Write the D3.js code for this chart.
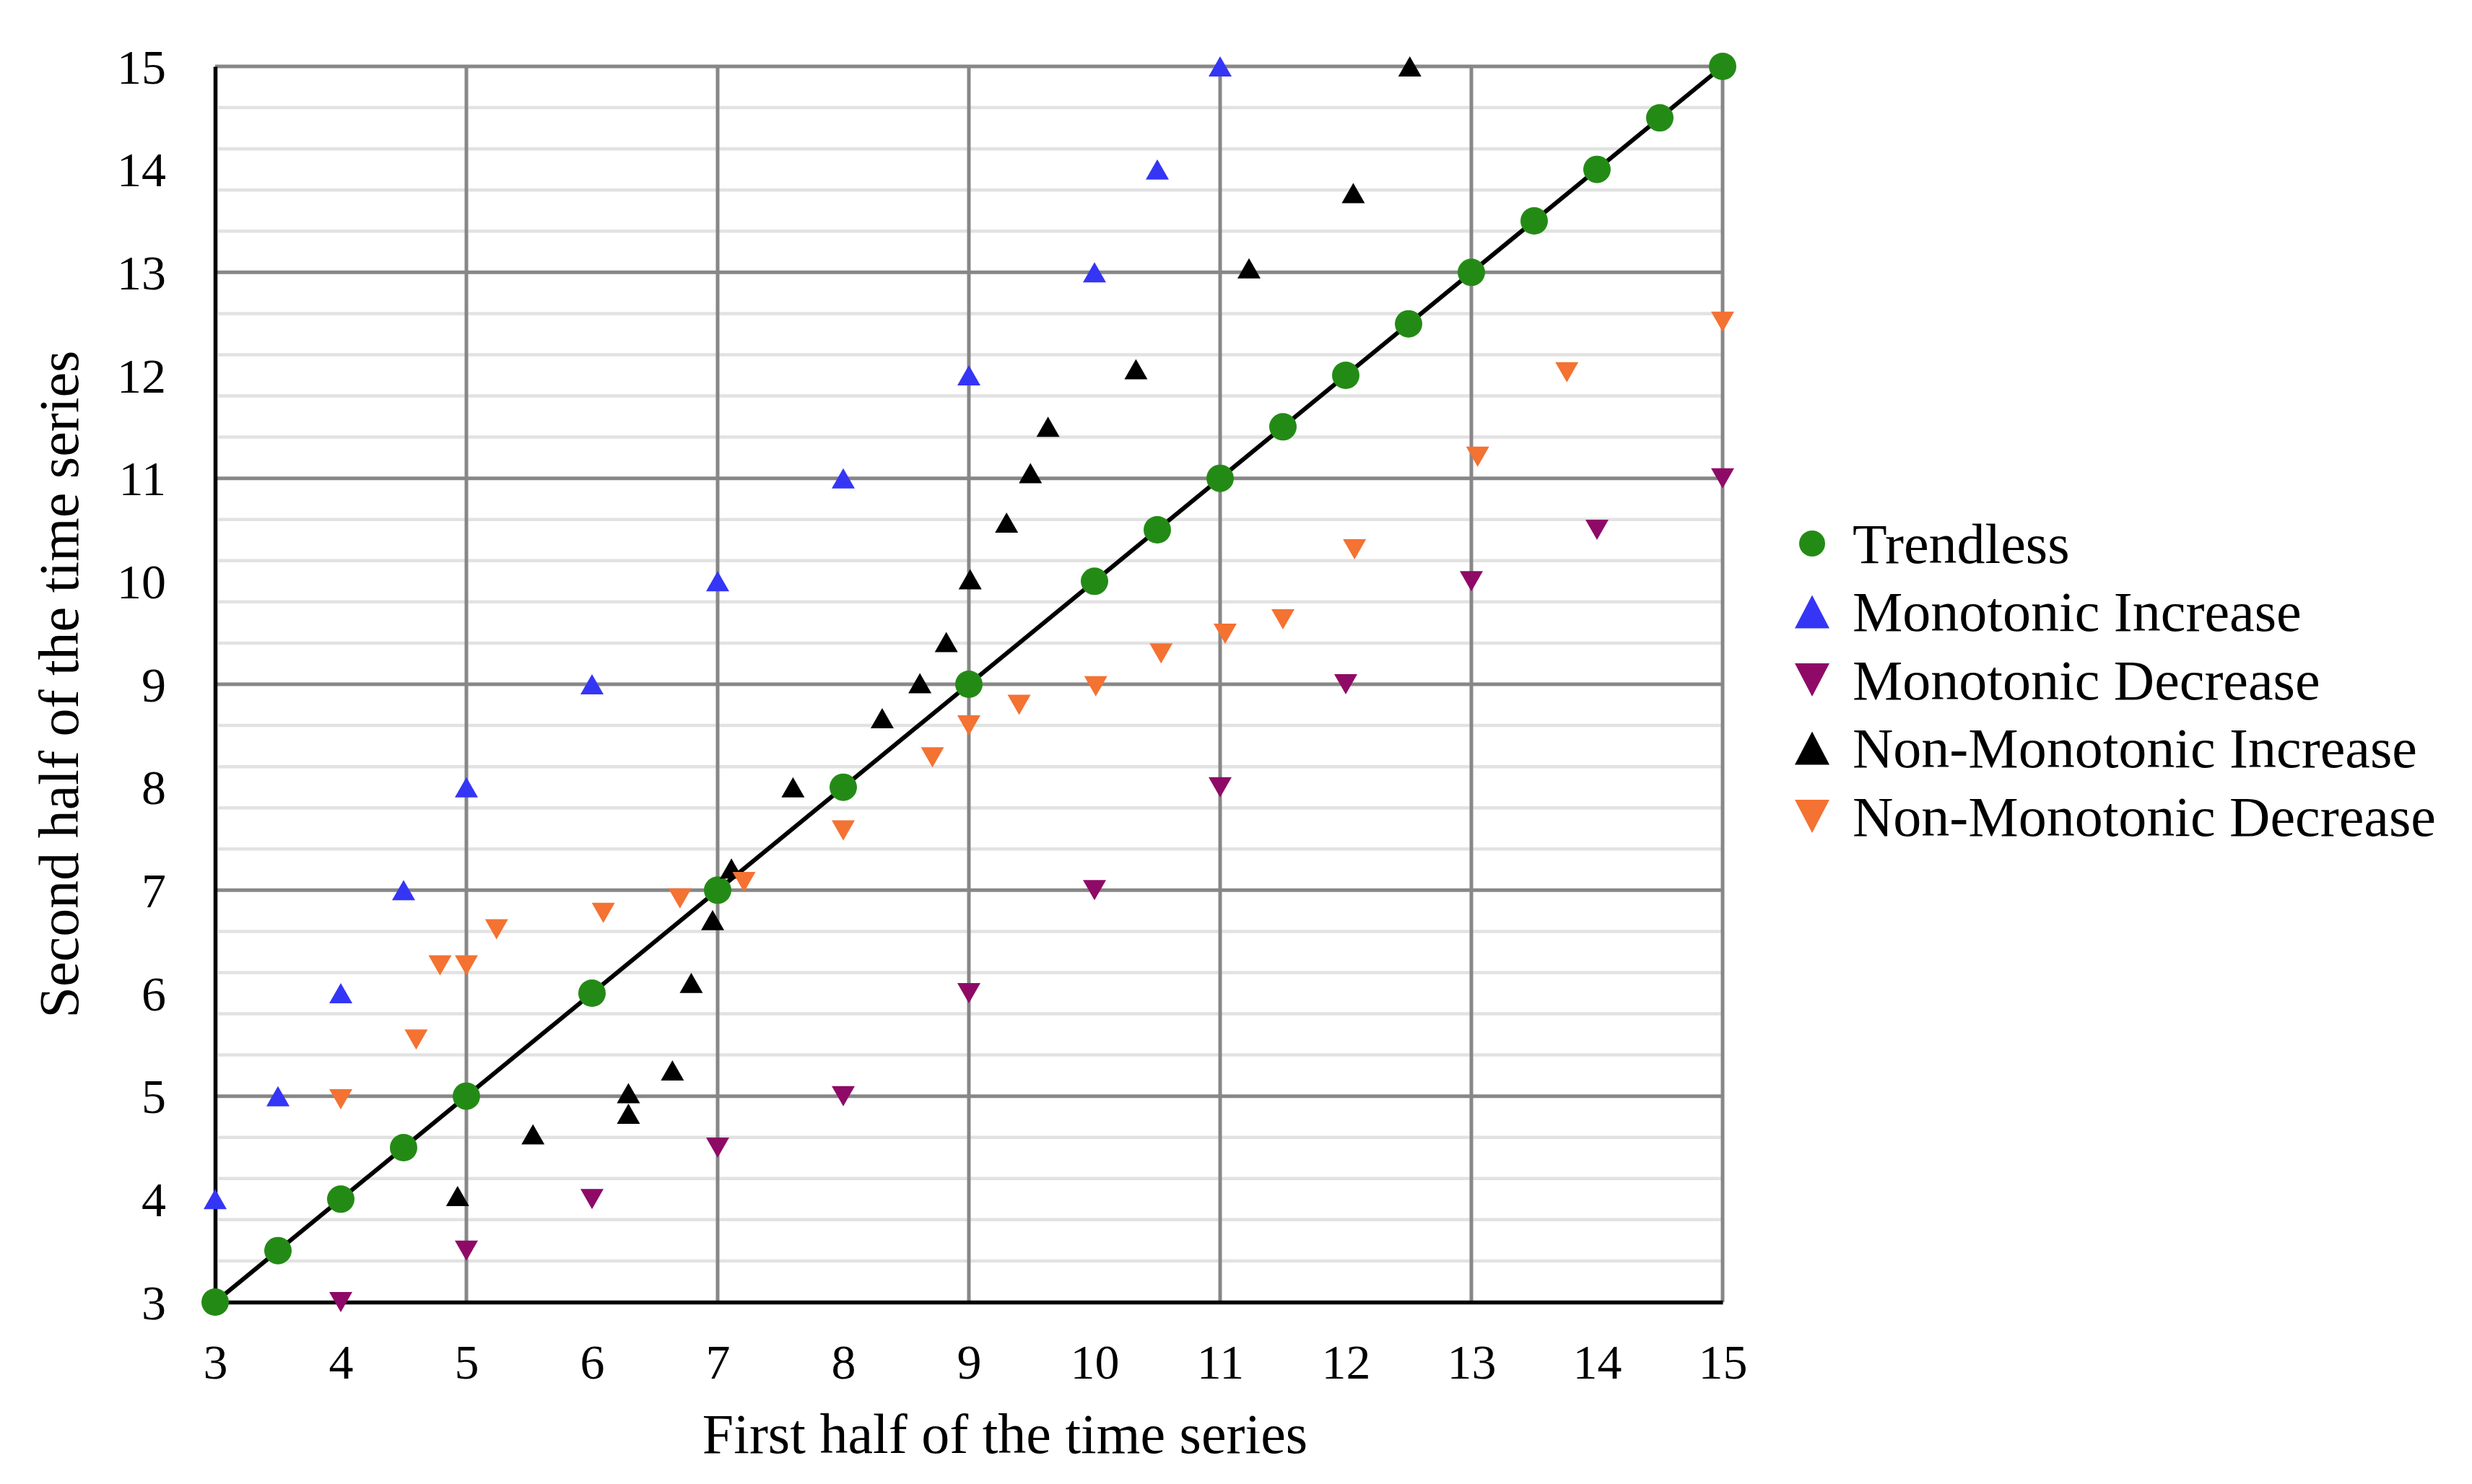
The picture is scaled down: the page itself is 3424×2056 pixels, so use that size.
<!DOCTYPE html>
<html>
<head>
<meta charset="utf-8">
<script src="https://cdnjs.cloudflare.com/ajax/libs/d3/7.8.5/d3.min.js"></script>
<style>
  body { margin: 0; background: #fff; }
  text { font-family: "Liberation Serif", "Times New Roman", serif; fill: #000; }
</style>
</head>
<body>
<div id="chart"></div>
<script>
// data
var ticks = [3, 4, 5, 6, 7, 8, 9, 10, 11, 12, 13, 14, 15];
var majorGrid = [5, 7, 9, 11, 13, 15];

var trendlessX = [3, 3.5, 4, 4.5, 5, 6, 7, 8, 9, 10, 10.5, 11, 11.5, 12, 12.5, 13, 13.5, 14, 14.5, 15];
var trendlessY = [3, 3.5, 4, 4.5, 5, 6, 7, 8, 9, 10, 10.5, 11, 11.5, 12, 12.5, 13, 13.5, 14, 14.5, 15];

var monoIncX = [3, 3.5, 4, 4.5, 5, 6, 7, 8, 9, 10, 10.5, 11];
var monoIncY = [4, 5, 6, 7, 8, 9, 10, 11, 12, 13, 14, 15];

var monoDecX = [4, 5, 6, 7, 8, 9, 10, 11, 12, 13, 14, 15];
var monoDecY = [3, 3.5, 4, 4.5, 5, 6, 7, 8, 9, 10, 10.5, 11];

var nonMonoIncX = [4.93, 5.53, 6.29, 6.29, 6.64, 6.79, 6.96, 7.11, 7.6, 8.31, 8.61, 8.82, 9.01, 9.3, 9.49, 9.63, 10.33, 11.23, 12.06, 12.51];
var nonMonoIncY = [4.03, 4.63, 5.03, 4.83, 5.25, 6.1, 6.71, 7.21, 8.0, 8.67, 9.01, 9.41, 10.02, 10.57, 11.05, 11.5, 12.06, 13.04, 13.77, 15.0];

var nonMonoDecX = [4, 4.6, 4.79, 5, 5.24, 6.09, 6.7, 7.21, 8, 8.71, 9, 9.4, 10.01, 10.53, 11.04, 11.5, 12.07, 13.05, 13.76, 15];
var nonMonoDecY = [4.97, 5.55, 6.27, 6.27, 6.62, 6.78, 6.92, 7.08, 7.58, 8.29, 8.6, 8.8, 8.98, 9.3, 9.49, 9.63, 10.31, 11.21, 12.03, 12.52];

var diagX = [3, 15];
var diagY = [3, 15];

var seriesNames = ["Trendless", "Monotonic Increase", "Monotonic Decrease", "Non-Monotonic Increase", "Non-Monotonic Decrease"];
var seriesColors = ["#238b15", "#3535f5", "#8e0a66", "#000000", "#f47232"];
var seriesShapes = ["circle", "up", "down", "up", "down"];

var W = 3424, H = 2056;
var margin = {top: 92, right: 1038, bottom: 252, left: 298};
var width = W - margin.left - margin.right,
    height = H - margin.top - margin.bottom;

var svg = d3.select("#chart")
  .append("svg")
    .attr("width", W)
    .attr("height", H)
  .append("g")
    .attr("transform", "translate(" + margin.left + "," + margin.top + ")");

var x = d3.scaleLinear().domain([3, 15]).range([0, width]);
var y = d3.scaleLinear().domain([3, 15]).range([height, 0]);

// minor horizontal gridlines every 0.4
var minor = d3.range(0, 31).map(function(i) { return 3 + i * 0.4; })
  .filter(function(v) { return Math.abs((v - 3) / 2 - Math.round((v - 3) / 2)) > 0.01; });
svg.append("g").selectAll("line")
  .data(minor)
  .enter().append("line")
    .attr("x1", 4).attr("x2", width)
    .attr("y1", function(d) { return y(d); })
    .attr("y2", function(d) { return y(d); })
    .attr("stroke", "#e2e2e2")
    .attr("stroke-width", 4.5);

// major gridlines
svg.append("g").selectAll("line")
  .data(majorGrid)
  .enter().append("line")
    .attr("x1", 0).attr("x2", width)
    .attr("y1", function(d) { return y(d); })
    .attr("y2", function(d) { return y(d); })
    .attr("stroke", "#878787")
    .attr("stroke-width", 5);
svg.append("g").selectAll("line")
  .data(majorGrid)
  .enter().append("line")
    .attr("y1", 0).attr("y2", height)
    .attr("x1", function(d) { return x(d); })
    .attr("x2", function(d) { return x(d); })
    .attr("stroke", "#878787")
    .attr("stroke-width", 5);

// axes
var xAxis = svg.append("g")
  .attr("transform", "translate(0," + height + ")")
  .call(d3.axisBottom(x).tickValues(ticks).tickSize(0).tickPadding(58).tickFormat(d3.format("d")));
var yAxis = svg.append("g")
  .call(d3.axisLeft(y).tickValues(ticks).tickSize(0).tickPadding(68).tickFormat(d3.format("d")));
[xAxis, yAxis].forEach(function(a) {
  a.select(".domain").attr("stroke", "#000").attr("stroke-width", 5.5);
  a.selectAll("text").style("font-size", "68px")
    .style("font-family", "'Liberation Serif', 'Times New Roman', serif");
});
yAxis.selectAll("text").attr("dy", "0.34em");

// diagonal line
svg.append("path")
  .datum(d3.zip(diagX, diagY))
  .attr("fill", "none")
  .attr("stroke", "#000")
  .attr("stroke-width", 6)
  .attr("d", d3.line()
    .x(function(d) { return x(d[0]); })
    .y(function(d) { return y(d[1]); }));

function markerPath(shape, w, h) {
  if (shape === "up") return "M0," + (-h / 2) + "L" + (w / 2) + "," + (h / 2) + "L" + (-w / 2) + "," + (h / 2) + "Z";
  return "M0," + (h / 2) + "L" + (w / 2) + "," + (-h / 2) + "L" + (-w / 2) + "," + (-h / 2) + "Z";
}

var seriesData = [
  d3.zip(trendlessX, trendlessY),
  d3.zip(monoIncX, monoIncY),
  d3.zip(monoDecX, monoDecY),
  d3.zip(nonMonoIncX, nonMonoIncY),
  d3.zip(nonMonoDecX, nonMonoDecY)
];

seriesData.forEach(function(data, i) {
  var g = svg.append("g");
  if (seriesShapes[i] === "circle") {
    g.selectAll("circle")
      .data(data)
      .enter().append("circle")
        .attr("cx", function(d) { return x(d[0]); })
        .attr("cy", function(d) { return y(d[1]); })
        .attr("r", 19)
        .attr("fill", seriesColors[i]);
  } else {
    g.selectAll("path")
      .data(data)
      .enter().append("path")
        .attr("transform", function(d) { return "translate(" + x(d[0]) + "," + y(d[1]) + ")"; })
        .attr("d", markerPath(seriesShapes[i], 32, 28))
        .attr("fill", seriesColors[i]);
  }
});

// axis titles
svg.append("text")
  .attr("x", 1392 - margin.left)
  .attr("y", 2013 - margin.top)
  .attr("text-anchor", "middle")
  .style("font-size", "78px")
  .text("First half of the time series");

svg.append("text")
  .attr("transform", "translate(" + (108 - margin.left) + "," + (height / 2) + ") rotate(-90)")
  .attr("text-anchor", "middle")
  .style("font-size", "78px")
  .text("Second half of the time series");

// legend
var legend = svg.append("g")
  .attr("transform", "translate(" + (2510 - margin.left) + "," + (753 - margin.top) + ")");
seriesNames.forEach(function(name, i) {
  var row = legend.append("g").attr("transform", "translate(0," + (i * 94.5) + ")");
  if (seriesShapes[i] === "circle") {
    row.append("circle").attr("r", 18).attr("fill", seriesColors[i]);
  } else {
    row.append("path").attr("d", markerPath(seriesShapes[i], 48, 46)).attr("fill", seriesColors[i]);
  }
  row.append("text")
    .attr("x", 56)
    .attr("dy", "0.34em")
    .style("font-size", "78px")
    .text(name);
});
</script>
</body>
</html>
